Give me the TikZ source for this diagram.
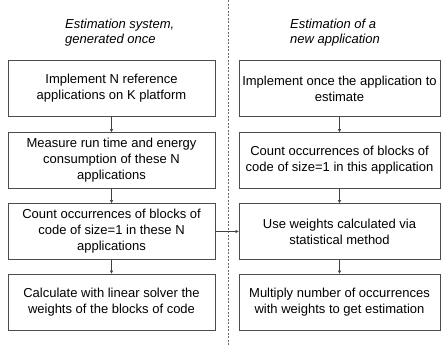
\documentclass[tikz,border=0pt]{standalone}
\usepackage{fontspec}
\setmainfont{Liberation Sans}
\usetikzlibrary{positioning}
\usetikzlibrary{arrows.meta}

\begin{document}
\begin{tikzpicture}[x=1pt,y=-1pt,
  stepbox/.style={draw=black!70,line width=0.8pt,minimum height=56pt,align=center,
    font=\fontsize{13}{16}\selectfont,inner sep=0pt},
  flow/.style={draw=black!75,line width=0.6pt,-{Triangle[length=3pt,width=3pt]}},
  title/.style={font=\fontsize{13}{15}\selectfont\itshape,align=left,anchor=west,inner sep=0pt}]
\useasboundingbox (0,0) rectangle (441,346);

% separation between the two phases
\draw[black!60,line width=0.6pt,dash pattern=on 2pt off 1.5pt] (228,0) -- (228,346);

\node[title] (sysTitle) at (65,32.5) {Estimation system,\\generated once};
\node[title] (appTitle) at (290,32.5) {Estimation of a\\new application};

% left column
\node[stepbox,minimum width=207pt] (sysA) at (111.5,88.5) {Implement N reference\\applications on K platform};
\node[stepbox,minimum width=207pt] (sysB) at (111.5,160.5) {Measure run time and energy\\consumption of these N\\applications};
\node[stepbox,minimum width=207pt] (sysC) at (111.5,231.5) {Count occurrences of blocks of\\code of size=1 in these N\\applications};
\node[stepbox,minimum width=207pt] (sysD) at (111.5,302) {Calculate with linear solver the\\weights of the blocks of code};

% right column
\node[stepbox,minimum width=201pt] (appA) at (339.5,88.5) {Implement once the application to\\estimate};
\node[stepbox,minimum width=201pt] (appB) at (339.5,160.5) {Count occurrences of blocks of\\code of size=1 in this application};
\node[stepbox,minimum width=201pt] (appC) at (339.5,231.5) {Use weights calculated via\\statistical method};
\node[stepbox,minimum width=201pt] (appD) at (339.5,302) {Multiply number of occurrences\\with weights to get estimation};

\draw[flow] (sysA) -- (sysB);
\draw[flow] (sysB) -- (sysC);
\draw[flow] (sysC) -- (sysD);
\draw[flow] (appA) -- (appB);
\draw[flow] (appB) -- (appC);
\draw[flow] (appC) -- (appD);
\draw[flow] (sysC) -- (appC);

\end{tikzpicture}
\end{document}
